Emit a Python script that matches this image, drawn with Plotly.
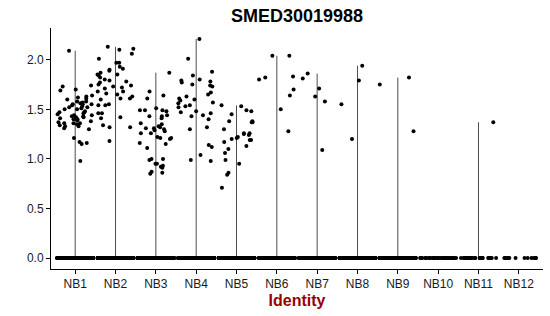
import numpy as np
import plotly.graph_objects as go

groups = ["NB1", "NB2", "NB3", "NB4", "NB5", "NB6", "NB7", "NB8", "NB9", "NB10", "NB11", "NB12"]

nb1 = [2.09, 1.74, 1.73, 1.70, 1.69, 1.64, 1.62, 1.61, 1.60, 1.58, 1.57, 1.56, 1.55, 1.55,
       1.54, 1.53, 1.52, 1.52, 1.51, 1.50, 1.50, 1.48, 1.47, 1.46, 1.45, 1.44, 1.44, 1.43,
       1.43, 1.42, 1.42, 1.41, 1.40, 1.39, 1.38, 1.37, 1.36, 1.36, 1.35, 1.34, 1.33, 1.33,
       1.31, 1.30, 1.36, 1.40, 1.47, 1.55, 1.58, 1.63, 1.21, 1.17, 1.16, 1.15, 0.98]
nb2 = [2.13, 2.10, 2.11, 2.06, 2.01, 1.97, 1.97, 1.91, 1.90, 1.89, 1.85, 1.84, 1.85, 1.82,
       1.80, 1.79, 1.77, 1.75, 1.74, 1.73, 1.71, 1.68, 1.68, 1.66, 1.63, 1.61, 1.61, 1.60,
       1.55, 1.54, 1.54, 1.46, 1.46, 1.42, 1.41, 1.34, 1.32, 1.32, 1.18, 1.87, 1.78, 1.72,
       1.65, 1.93]
nb3 = [1.87, 1.68, 1.64, 1.61, 1.51, 1.49, 1.49, 1.49, 1.48, 1.44, 1.43, 1.43, 1.41, 1.36,
       1.35, 1.33, 1.32, 1.31, 1.31, 1.30, 1.29, 1.28, 1.26, 1.26, 1.22, 1.21, 1.21, 1.20,
       1.16, 1.15, 1.11, 1.00, 1.00, 0.99, 0.95, 0.95, 0.93, 0.92, 0.91, 0.87, 0.86, 0.85]
nb4 = [2.21, 2.01, 1.88, 1.84, 1.80, 1.79, 1.78, 1.77, 1.75, 1.74, 1.73, 1.67, 1.65, 1.63,
       1.61, 1.60, 1.59, 1.57, 1.56, 1.54, 1.53, 1.52, 1.48, 1.47, 1.46, 1.44, 1.43, 1.40,
       1.32, 1.30, 1.14, 1.12, 1.04, 0.99, 0.98]
nb5 = [1.54, 1.53, 1.49, 1.48, 1.45, 1.38, 1.38, 1.37, 1.37, 1.30, 1.26, 1.26, 1.25, 1.24,
       1.22, 1.21, 1.20, 1.19, 1.19, 1.17, 1.13, 1.10, 1.06, 0.99, 0.95, 0.86, 0.84, 0.71]
nb6 = [2.04, 2.04, 1.83, 1.82, 1.80, 1.70, 1.64, 1.50, 1.28]
nb7 = [1.86, 1.81, 1.71, 1.63, 1.58, 1.09]
nb8 = [1.94, 1.79, 1.55, 1.20]
nb9 = [1.82, 1.75, 1.28]
nb10 = []
nb11 = [1.37]
nb12 = []
nonzero_values = [nb1, nb2, nb3, nb4, nb5, nb6, nb7, nb8, nb9, nb10, nb11, nb12]
zero_counts = [400, 400, 400, 400, 400, 300, 300, 300, 300, 45, 30, 14]

y_ticks = [0.0, 0.5, 1.0, 1.5, 2.0]
y_tick_labels = ["0.0", "0.5", "1.0", "1.5", "2.0"]

rng = np.random.default_rng(7)
fig = go.Figure()

# violin bodies (thin, since data are mostly zeros)
for i, vals in enumerate(nonzero_values):
    if vals:
        fig.add_trace(go.Scatter(x=[i + 1, i + 1], y=[0, max(vals)], mode="lines",
                                 line=dict(color="#4d4d4d", width=1),
                                 hoverinfo="skip", showlegend=False))

xs, ys = [], []
for i, (vals, nz) in enumerate(zip(nonzero_values, zero_counts)):
    allv = [0.0] * nz + list(vals)
    off = rng.uniform(-0.45, 0.45, len(allv))
    xs.extend((i + 1 + off).tolist())
    ys.extend(allv)

fig.add_trace(go.Scatter(x=xs, y=ys, mode="markers",
                         marker=dict(color="black", size=4, line=dict(width=0)),
                         showlegend=False, hoverinfo="skip"))

fig.update_layout(
    width=550, height=316,
    margin=dict(l=51, r=7, t=28, b=47),
    paper_bgcolor="white", plot_bgcolor="white",
    font=dict(family="Liberation Sans, Arial, sans-serif", color="#1a1a1a", size=12),
    title=dict(text="<b>SMED30019988</b>", x=0.54, xanchor="center", y=0.95, yanchor="middle",
               font=dict(size=18, color="black")),
    xaxis=dict(range=[0.4, 12.6], tickmode="array", tickvals=list(range(1, 13)), ticktext=groups,
               showgrid=False, zeroline=False, showline=True, linecolor="black", linewidth=1,
               ticks="outside", ticklen=4, tickcolor="black",
               title=dict(text="<b>Identity</b>", font=dict(size=16, color="#990000"), standoff=4)),
    yaxis=dict(range=[-0.11, 2.32], tickmode="array", tickvals=y_ticks, ticktext=y_tick_labels,
               showgrid=False, zeroline=False, showline=True, linecolor="black", linewidth=1,
               ticks="outside", ticklen=4, tickcolor="black"),
)

fig.write_html("out.html")
